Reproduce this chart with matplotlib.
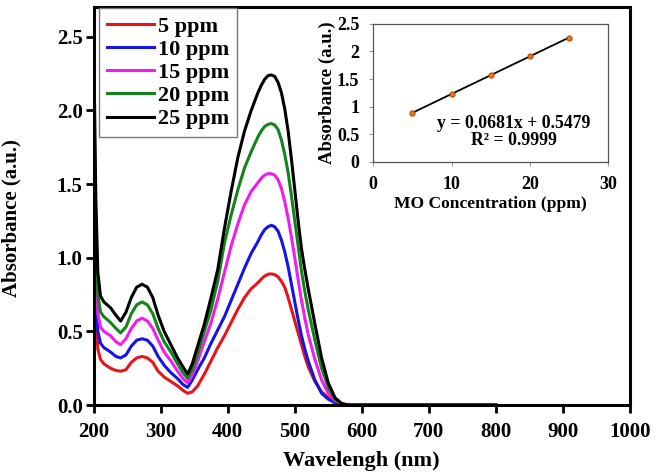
import matplotlib
matplotlib.use('Agg')
import matplotlib.pyplot as plt
import numpy as np

plt.rcParams['font.family'] = ['Liberation Serif', 'DejaVu Serif']
plt.rcParams['font.weight'] = 'bold'

# UV-vis spectra
wl = [200, 203, 206, 210, 215, 225, 233, 240, 248, 256, 264, 272, 280, 288, 296,
      305, 315, 325, 333, 340, 347, 355, 365, 375, 385, 395, 405, 415, 425, 435,
      445, 450, 455, 460, 465, 470, 475, 480, 485, 490, 495, 500, 505, 510, 515,
      520, 530, 540, 550, 560, 570, 580, 600, 700, 800]

a5 = [1.00, 0.60, 0.38, 0.31, 0.28, 0.25, 0.235, 0.23, 0.24, 0.29, 0.32, 0.33, 0.32, 0.29, 0.23,
      0.19, 0.16, 0.13, 0.10, 0.08, 0.09, 0.13, 0.21, 0.30, 0.39, 0.47, 0.56, 0.65, 0.73, 0.79,
      0.83, 0.855, 0.875, 0.888, 0.89, 0.885, 0.87, 0.84, 0.80, 0.73, 0.65, 0.57, 0.49, 0.41, 0.33,
      0.26, 0.16, 0.09, 0.05, 0.02, 0.005, 0.0, 0.0, 0.0, 0.0]
a10 = [1.38, 0.80, 0.50, 0.42, 0.39, 0.36, 0.33, 0.32, 0.34, 0.40, 0.44, 0.45, 0.44, 0.40, 0.33,
       0.27, 0.22, 0.18, 0.14, 0.12, 0.17, 0.24, 0.32, 0.42, 0.51, 0.60, 0.71, 0.82, 0.93, 1.03,
       1.11, 1.155, 1.19, 1.21, 1.22, 1.21, 1.18, 1.12, 1.04, 0.94, 0.82, 0.70, 0.58, 0.47, 0.38,
       0.30, 0.17, 0.08, 0.04, 0.015, 0.005, 0.0, 0.0, 0.0, 0.0]
a15 = [1.75, 1.00, 0.62, 0.53, 0.50, 0.47, 0.43, 0.41, 0.45, 0.52, 0.57, 0.59, 0.57, 0.52, 0.44,
       0.36, 0.30, 0.23, 0.18, 0.15, 0.20, 0.30, 0.43, 0.56, 0.72, 0.90, 1.08, 1.23, 1.36, 1.45,
       1.51, 1.54, 1.56, 1.57, 1.57, 1.56, 1.53, 1.47, 1.38, 1.27, 1.14, 1.00, 0.85, 0.71, 0.59,
       0.48, 0.31, 0.17, 0.08, 0.03, 0.01, 0.0, 0.0, 0.0, 0.0]
a20 = [2.10, 1.20, 0.75, 0.63, 0.60, 0.56, 0.52, 0.49, 0.53, 0.62, 0.68, 0.70, 0.68, 0.62, 0.52,
       0.43, 0.36, 0.28, 0.22, 0.18, 0.24, 0.35, 0.50, 0.65, 0.84, 1.10, 1.29, 1.46, 1.61, 1.72,
       1.82, 1.86, 1.89, 1.905, 1.91, 1.90, 1.87, 1.80, 1.70, 1.58, 1.42, 1.25, 1.08, 0.91, 0.77,
       0.65, 0.44, 0.25, 0.12, 0.04, 0.01, 0.0, 0.0, 0.0, 0.0]
a25 = [2.40, 1.40, 0.90, 0.74, 0.70, 0.66, 0.61, 0.57, 0.63, 0.73, 0.80, 0.82, 0.80, 0.73, 0.61,
       0.50, 0.41, 0.32, 0.26, 0.21, 0.28, 0.40, 0.55, 0.73, 0.92, 1.20, 1.45, 1.68, 1.86, 2.00,
       2.12, 2.17, 2.21, 2.235, 2.24, 2.23, 2.19, 2.12, 2.01, 1.86, 1.67, 1.46, 1.25, 1.06, 0.92,
       0.79, 0.55, 0.32, 0.15, 0.05, 0.01, 0.0, 0.0, 0.0, 0.0]

labels = ['5 ppm', '10 ppm', '15 ppm', '20 ppm', '25 ppm']
colors = ['#e8141b', '#1414e6', '#f01cf0', '#12841a', 'black']

# calibration inset
conc = [5, 10, 15, 20, 25]
peak_abs = [0.89, 1.22, 1.57, 1.91, 2.24]
slope = 0.0681
intercept = 0.5479

fig = plt.figure(figsize=(6.56, 4.76), dpi=100)
ax = fig.add_axes([0.143, 0.149, 0.817, 0.836])

for y, lab, c in zip([a5, a10, a15, a20, a25], labels, colors):
    ax.plot(wl, y, c=c, lw=2.2, label=lab)

ax.set_xlim(200, 1000)
ax.set_ylim(0, 2.7)
ax.set_xticks(range(200, 1001, 100))
ax.set_yticks([0.0, 0.5, 1.0, 1.5, 2.0, 2.5])
ax.set_yticklabels(['0.0', '0.5', '1.0', '1.5', '2.0', '2.5'])
for s in ax.spines.values():
    s.set_linewidth(2.2)
ax.tick_params(direction='out', length=6, width=2, labelsize=15)
ax.tick_params(axis='x', pad=6)
ax.tick_params(axis='y', pad=2)
ax.set_xlabel('Wavelengh (nm)', fontsize=16, fontweight='bold', labelpad=7)
ax.set_ylabel('Absorbance (a.u.)', fontsize=15, fontweight='bold')
ax.yaxis.set_label_coords(-0.135, 0.47)

leg = ax.legend(loc='upper left', bbox_to_anchor=(0.008, 1.0), fontsize=16,
                handlelength=2.1, handletextpad=0.2, labelspacing=0.12,
                borderpad=0.35, borderaxespad=0.05, fancybox=False, framealpha=1)
leg.get_frame().set_edgecolor('#777777')
leg.get_frame().set_linewidth(1)
for t in leg.get_texts():
    t.set_fontweight('bold')

ins = fig.add_axes([0.569, 0.660, 0.358, 0.290])
xf = np.array([conc[0], conc[-1]])
ins.plot(xf, slope * xf + intercept, c='black', lw=1.3)
ins.plot(conc, peak_abs, 'o', c='#f07a1a', ms=3.5, mec='#c05010')
ins.set_xlim(0, 30)
ins.set_ylim(0, 2.5)
ins.set_xticks([0, 10, 20, 30])
ins.set_yticks([0, 0.5, 1, 1.5, 2, 2.5])
ins.set_yticklabels(['0', '0.5', '1', '1.5', '2', '2.5'])
ins.tick_params(length=3, width=0.8, labelsize=13, pad=7, color='#999999')
for s in ins.spines.values():
    s.set_linewidth(0.9)
    s.set_color('#555555')
ins.text(0.60, 0.215, 'y = 0.0681x + 0.5479\nR² = 0.9999', transform=ins.transAxes,
         ha='center', va='center', fontsize=12.8, fontweight='bold', linespacing=1.05)
ins.set_xlabel('MO Concentration (ppm)', fontsize=12.6, fontweight='bold', labelpad=2)
ins.set_ylabel('Absorbance (a.u.)', fontsize=13.5, fontweight='bold', labelpad=1)

fig.savefig('out.png', dpi=100)
